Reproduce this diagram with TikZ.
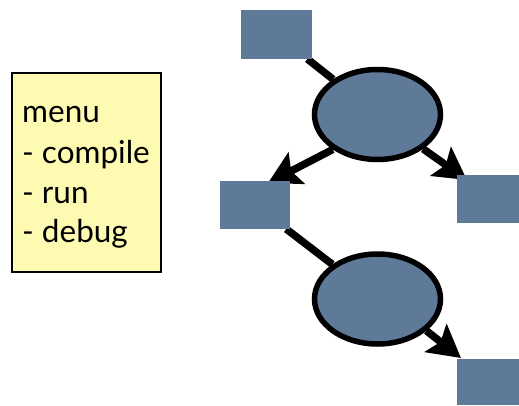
\documentclass[tikz,border=0pt]{standalone}
\usepackage{fontspec}
\setmainfont{Lato}
\usetikzlibrary{arrows.meta,shapes.geometric}
\pgfdeclarelayer{back}
\pgfsetlayers{back,main}
\definecolor{slate}{RGB}{95,121,152}
\definecolor{notepad}{RGB}{255,250,178}
\begin{document}
\begin{tikzpicture}[x=1pt,y=1pt,
  block/.style={fill=slate, draw=none, inner sep=0pt, outer sep=0pt},
  proc/.style={ellipse, fill=slate, draw=black, line width=5.5pt,
    minimum width=126pt, minimum height=90pt, inner sep=0pt},
  link/.style={line width=7.5pt, draw=black},
  flow/.style={link, -{Stealth[length=32pt,width=35pt,inset=6pt]}},
  menuline/.style={anchor=base west, inner sep=0pt, font=\fontsize{31.5}{38}\selectfont}]
\useasboundingbox (0,0) rectangle (519,405);

% menu box
\node[draw=black, line width=2.5pt, fill=notepad, minimum width=149pt,
  minimum height=199pt, inner sep=0pt] (menu) at (86.5,232.5) {};
\node[menuline] (m1) at (22,282) {menu};
\node[menuline] (m2) at (22,242) {- compile};
\node[menuline] (m3) at (22,202) {- run};
\node[menuline] (m4) at (22,163) {- debug};

% process graph
\node[block, minimum width=71pt, minimum height=49pt] (r1) at (276.5,370.5) {};
\node[proc] (e1) at (377.5,290.5) {};
\node[block, minimum width=70pt, minimum height=48pt] (r2) at (255,200) {};
\node[block, minimum width=62pt, minimum height=48pt] (r3) at (488,206) {};
\node[proc] (e2) at (377.5,106) {};
\node[block, minimum width=62pt, minimum height=46pt] (r4) at (488,23) {};

\begin{pgfonlayer}{back}
  \draw[link] (r1) -- (e1);
  \draw[link] (r2) -- (e2);
  \draw[flow] (e1.218.6) -- ([shift={(13,-2)}]r2.north);
  \draw[flow] (e1.323.5) -- ([shift={(10,-5)}]r3.north west);
  \draw[flow] (e2.327) -- ([shift={(4,1)}]r4.north west);
\end{pgfonlayer}
\end{tikzpicture}
\end{document}
